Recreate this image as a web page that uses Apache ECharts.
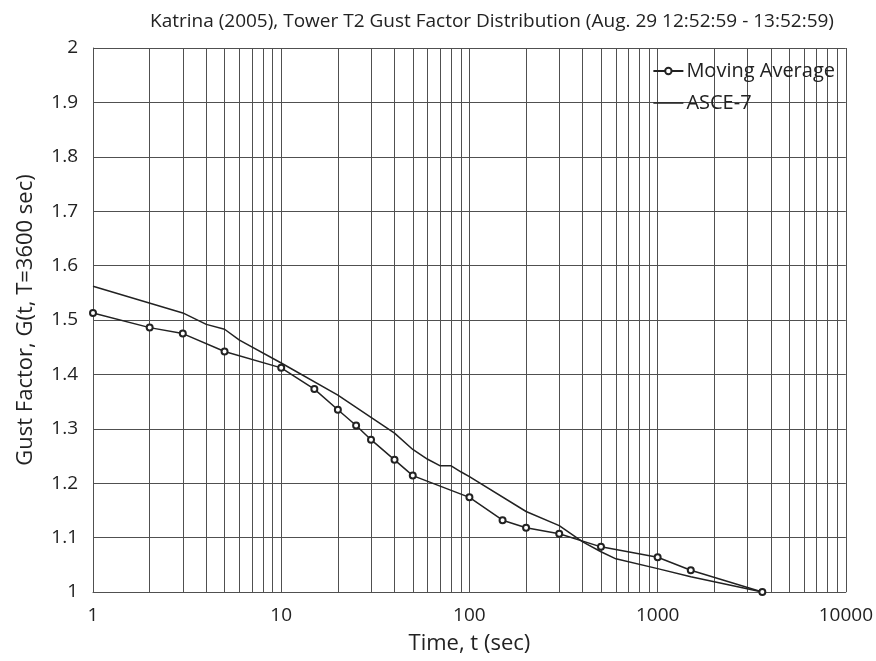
<!DOCTYPE html>
<html>
<head>
<meta charset="utf-8">
<script src="https://cdn.jsdelivr.net/npm/echarts@6/dist/echarts.min.js"></script>
<style>html,body{margin:0;padding:0;background:#fff;}#c{width:876px;height:661px;}</style>
</head>
<body>
<div id="c"></div>
<script>
var maTime = [1, 2, 3, 5, 10, 15, 20, 25, 30, 40, 50, 100, 150, 200, 300, 500, 1000, 1500, 3600];
var maGust = [1.513, 1.486, 1.475, 1.442, 1.412, 1.373, 1.335, 1.306, 1.280, 1.243, 1.214, 1.174, 1.132, 1.118, 1.107, 1.083, 1.064, 1.040, 1.000];
var asceTime = [1, 3, 4, 5, 6, 10, 20, 30, 40, 50, 60, 70, 80, 90, 100, 200, 300, 400, 500, 600, 1000, 1500, 3600];
var asceGust = [1.562, 1.513, 1.492, 1.483, 1.463, 1.421, 1.362, 1.321, 1.292, 1.262, 1.244, 1.232, 1.232, 1.221, 1.212, 1.148, 1.122, 1.092, 1.074, 1.061, 1.043, 1.028, 1.000];

var font = 'Open Sans';
var minorGrid = [];
[1, 10, 100, 1000].forEach(function (d) {
  for (var k = 2; k <= 9; k++) minorGrid.push({ xAxis: d * k });
});

function pairs(xs, ys) { return xs.map(function (x, i) { return [x, ys[i]]; }); }

var chart = echarts.init(document.getElementById('c'), null, { renderer: 'canvas' });
chart.setOption({
  animation: false,
  backgroundColor: '#fff',
  title: {
    text: 'Katrina (2005), Tower T2 Gust Factor Distribution (Aug. 29 12:52:59 - 13:52:59)',
    left: 145, top: 7,
    textStyle: { fontFamily: font, fontSize: 19, fontWeight: 'normal', color: '#222' }
  },
  legend: {
    orient: 'vertical', right: 36, top: 55, itemGap: 10, itemWidth: 30, itemHeight: 8,
    textStyle: { fontFamily: font, fontSize: 20, color: '#222', lineHeight: 22, padding: [0, 0, 0, -2] },
    data: [
      'Moving Average',
      { name: 'ASCE-7', icon: 'path://M0,0 L0,0 Z M0,3.3 L30,3.3 L30,4.7 L0,4.7 Z M0,8 L0,8 Z' }
    ]
  },
  grid: { left: 93, right: 27, top: 48, bottom: 69 },
  xAxis: {
    type: 'log', logBase: 10, min: 1, max: 10000,
    name: 'Time, t (sec)', nameLocation: 'middle', nameGap: 41,
    nameTextStyle: { fontFamily: font, fontSize: 22, color: '#222' },
    axisLine: { show: true, lineStyle: { color: '#505050', width: 1 } },
    axisTick: { show: false },
    axisLabel: { fontFamily: font, fontSize: 19, color: '#222', margin: 14,
      formatter: function (v) { return String(Math.round(v)); } },
    splitLine: { show: true, lineStyle: { color: '#505050', width: 1 } }
  },
  yAxis: {
    type: 'value', min: 1, max: 2, interval: 0.1,
    name: 'Gust Factor, G(t, T=3600 sec)', nameLocation: 'middle', nameGap: 56,
    nameTextStyle: { fontFamily: font, fontSize: 22, color: '#222' },
    axisLine: { show: true, lineStyle: { color: '#505050', width: 1 } },
    axisTick: { show: false },
    axisLabel: { fontFamily: font, fontSize: 19, color: '#222', margin: 15,
      formatter: function (v) { return (Math.round(v * 10) / 10).toString(); } },
    splitLine: { show: true, lineStyle: { color: '#505050', width: 1 } }
  },
  series: [
    {
      name: 'Moving Average', type: 'line', data: pairs(maTime, maGust),
      symbol: 'emptyCircle', symbolSize: 6,
      lineStyle: { color: '#222', width: 1.5 },
      itemStyle: { color: '#222', borderColor: '#222', borderWidth: 1.2 },
      z: 5,
      markLine: {
        silent: true, symbol: ['none', 'none'], label: { show: false },
        lineStyle: { color: '#505050', width: 1, type: 'solid' },
        emphasis: { disabled: true },
        data: minorGrid, z: 1
      }
    },
    {
      name: 'ASCE-7', type: 'line', data: pairs(asceTime, asceGust),
      showSymbol: false, symbol: 'none',
      lineStyle: { color: '#222', width: 1.5 },
      itemStyle: { color: '#222' },
      z: 4
    }
  ]
});
</script>
</body>
</html>
